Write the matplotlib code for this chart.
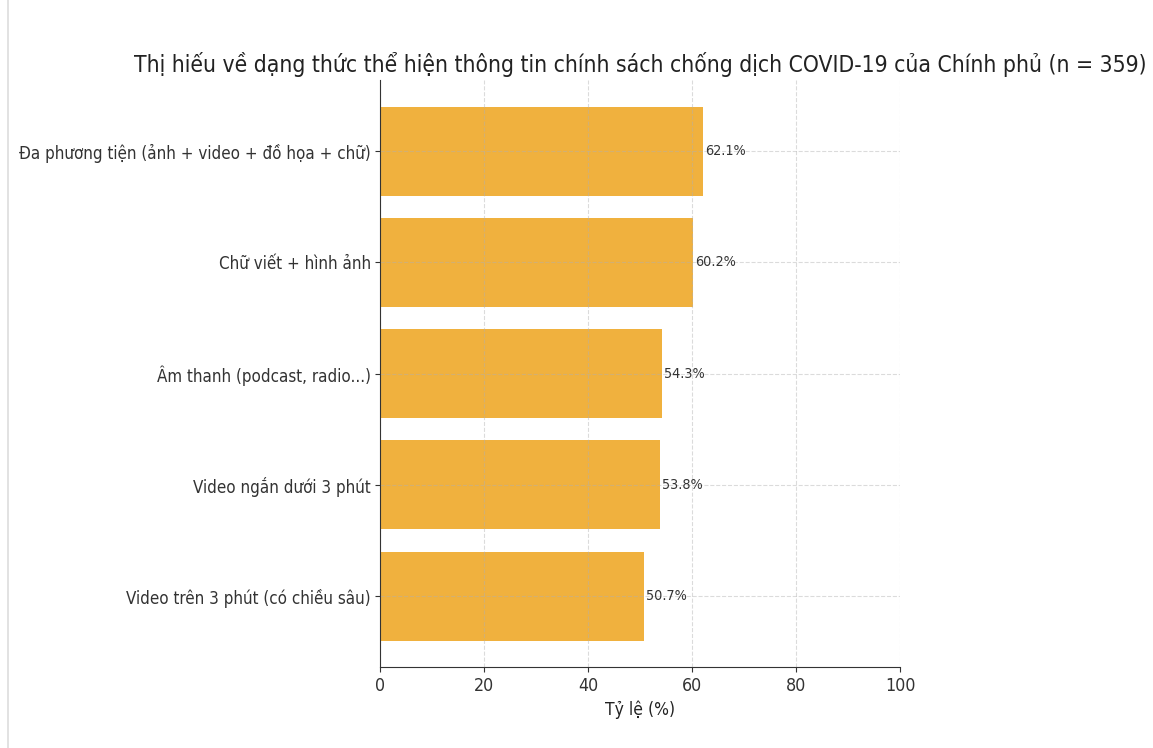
"""Horizontal bar chart: preferred formats for government COVID-19 policy information."""
import matplotlib

matplotlib.use("Agg")
import matplotlib.pyplot as plt  # noqa: E402
from matplotlib.lines import Line2D  # noqa: E402

TITLE = "Thị hiếu về dạng thức thể hiện thông tin chính sách chống dịch COVID-19 của Chính phủ (n = 359)"
CATEGORIES = [
    "Đa phương tiện (ảnh + video + đồ họa + chữ)",
    "Chữ viết + hình ảnh",
    "Âm thanh (podcast, radio...)",
    "Video ngắn dưới 3 phút",
    "Video trên 3 phút (có chiều sâu)",
]
SHARES = [62.1, 60.2, 54.3, 53.8, 50.7]
XTICKS = [0, 20, 40, 60, 80, 100]

BAR_COLOR = "#F0B13E"
TEXT_COLOR = "#222222"

plt.rcParams["font.family"] = ["DejaVu Sans"]
plt.rcParams["font.stretch"] = "condensed"


def main():
    fig = plt.figure(figsize=(11.53, 7.48), dpi=100)
    ax = fig.add_axes([0.3296, 0.108, 0.451, 0.785])

    ax.barh(CATEGORIES, SHARES, color=BAR_COLOR, height=0.8)
    ax.invert_yaxis()

    for i, v in enumerate(SHARES):
        ax.text(v + 0.4, i, f"{v}%", va="center", ha="left", fontsize=10.3, color="#333333")

    ax.set_xlim(0, 100)
    ax.set_xticks(XTICKS)
    ax.set_xlabel("Tỷ lệ (%)", fontsize=12.5, color=TEXT_COLOR)
    ax.tick_params(axis="x", labelsize=12.8, colors="#333333")
    ax.tick_params(axis="y", labelsize=12.2, colors="#333333", pad=3)
    ax.grid(True, linestyle="--", alpha=0.45)
    ax.spines["top"].set_visible(False)
    ax.spines["right"].set_visible(False)
    for side in ("left", "bottom"):
        ax.spines[side].set_color("#333333")
    ax.set_title(TITLE, fontsize=16.4, color=TEXT_COLOR, pad=6)

    # thin frame line down the left edge
    fig.add_artist(Line2D([0.007, 0.007], [0, 1], transform=fig.transFigure,
                          color="#dddddd", linewidth=1.2))

    fig.savefig("out.png", dpi=100)
    plt.close(fig)


if __name__ == "__main__":
    main()
